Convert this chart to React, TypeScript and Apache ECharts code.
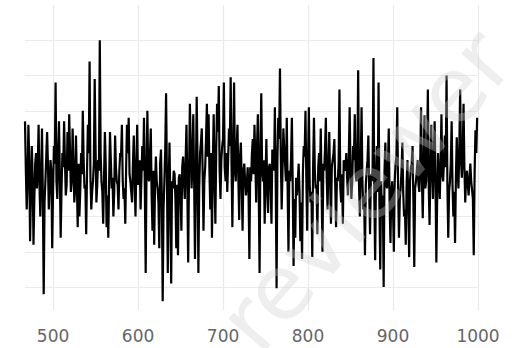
import React, { useEffect, useRef } from "react";
import * as echarts from "echarts";

const xStart = 467;
const xTicks = [500, 600, 700, 800, 900, 1000];
const yGridValues = [0, 10, 20, 30, 40, 50, 60, 70];

// values at x = 467, 469, 471, ...
const valuesEven = [
  47, 22, 46, 13, 40, 12, 35, 28, 46, 20,
  45, -2, 30, 44, 22, 36, 11, 40, 58, 25,
  47, 14, 38, 47, 26, 44, 49, 27, 45, 24,
  43, 17, 20, 38, 50, 28, 15, 46, 64, 22,
  30, 59, 24, 36, 70, 30, 18, 44, 17, 14,
  44, 28, 20, 43, 30, 22, 38, 46, 25, 18,
  46, 48, 30, 24, 43, 20, 46, 32, 22, 40,
  48, 4, 50, 30, 45, 16, 12, 37, 28, 11,
  39, -4, 30, 55, 4, 41, 1, 28, 32, 11,
  9, 32, 16, 37, 25, 46, 7, 52, 28, 49,
  8, 54, 4, 38, 45, 16, 34, 52, 49, 22,
  14, 49, 18, 52, 57, 25, 40, 58, 30, 27,
  45, 59.5, 17, 58, 30, 46, 19, 41, 16, 35,
  26, 34, 8, 30, 42, 46, 24, 49, 4, 55,
  30, 18, 42, 21, 35, 18, 36, 51, -0.3, 48,
  62, 22, 45, 35, 48, 10, 30, 48, 6, 14,
  26, 35, 13, 8, 40, 50, 16, 51, 24, 8.5,
  48, 28, 15, 38, 45, 10, 33, 48, 22, 44,
  18, 36, 42, 17, 30, 56, 24, 18, 34, 38,
  26, 51, 25, 40, 49, 30, 61.5, 20, 51, 22,
  9, 33, 43, 15, 30, 65, 7.6, 40, 58, 5,
  20, 0, 41, 28, 45, 12.5, 30, 10, 35, 51,
  14, 28, 41, 20, 12, 36, 8.5, 34, 40, 5.7,
  30, 36, 27, 51, 19.5, 48.7, 30, 56, 17.6, 46,
  25, 47, 7, 38, 25, 49, 30, 43, 60, 14,
  30, 47, 20, 12.5, 42.5, 28, 56, 31, 52, 24,
  33, 26, 35, 27.5, 9, 44.5, 48,
];

// values at x = 468, 470, 472, ...
const valuesOdd = [
  33, 30, 36, 27, 31, 25, 38, 34, 29, 32,
  26, 24, 37, 35, 29, 33, 27, 35, 30, 38,
  31, 28, 34, 36, 29, 33, 38, 30, 35, 28,
  30, 35, 27, 32, 36, 29, 33, 38, 31, 27,
  35, 40, 29, 33, 38, 27, 31, 35, 26, 30,
  36, 31, 27, 34, 29, 33, 37, 30, 28, 34,
  38, 32, 27, 35, 30, 34, 29, 36, 31, 33,
  28, 34, 31, 37, 26, 33, 29, 30, 24, 35,
  26, 22, 39, 31, 28, 24, 30, 33, 25, 29,
  31, 27, 34, 30, 36, 28, 32, 40, 35, 30,
  29, 36, 28, 41, 33, 30, 42, 37, 33, 38,
  35, 31, 39, 44, 33, 36, 42, 34, 38, 36,
  40, 35, 38, 33, 39, 31, 37, 29, 33, 30,
  29, 27, 34, 38, 32, 36, 40, 28, 39, 33,
  36, 31, 28, 34, 29, 39, 33, 30, 36, 42,
  37, 33, 39, 30, 28, 33, 36, 29, 25, 31,
  30, 27, 24, 33, 37, 31, 35, 29, 27, 34,
  33, 29, 34, 30, 27, 35, 39, 31, 35, 30,
  34, 38, 29, 31, 35, 28, 32, 36, 33, 31,
  37, 33, 30, 36, 32, 35, 29, 34, 30, 26,
  29, 36, 27, 32, 34, 25, 31, 27, 23, 30,
  26, 33, 29, 34, 24, 27, 22, 30, 37, 28,
  25, 33, 27, 22, 29, 23, 30, 35, 24, 28,
  33, 29, 35, 31, 34, 28, 36, 29, 33, 34,
  37, 30, 26, 31, 35, 32, 36, 34, 29, 27,
  35, 29, 27, 31, 33, 39, 36, 37, 34, 31,
  29, 31, 30, 25, 32, 38,
];

const watermark = "reviewer";

export default function App() {
  const ref = useRef<HTMLDivElement>(null);
  useEffect(() => {
    if (!ref.current) return;
    const chart = echarts.init(ref.current, undefined, { renderer: "svg" });
    const data: number[][] = [];
    valuesEven.forEach((v, i) => {
      data.push([xStart + 2 * i, v]);
      if (i < valuesOdd.length) data.push([xStart + 2 * i + 1, valuesOdd[i]]);
    });
    chart.setOption({
      animation: false,
      backgroundColor: "#ffffff",
      grid: { left: 25, right: 39, top: 5, bottom: 38 },
      xAxis: {
        type: "value",
        min: xStart,
        max: 1000,
        axisLine: { show: false },
        axisTick: { show: false, customValues: xTicks },
        axisLabel: {
          customValues: xTicks,
          formatter: (v: number) => String(v),
          color: "#666666",
          fontSize: 17,
          fontFamily: "DejaVu Sans",
          margin: 17,
        },
        splitLine: { show: true, lineStyle: { color: "#ebebeb", width: 1.2 } },
      },
      yAxis: {
        type: "value",
        min: -6.5,
        max: 80,
        axisLine: { show: false },
        axisTick: { show: false, customValues: yGridValues },
        axisLabel: { show: false, customValues: yGridValues },
        splitLine: { show: true, lineStyle: { color: "#ebebeb", width: 1.2 } },
      },
      series: [
        {
          type: "line",
          data,
          showSymbol: false,
          symbol: "none",
          lineStyle: { color: "#000000", width: 2.2 },
          z: 2,
        },
      ],
      graphic: [
        {
          type: "text",
          x: 365,
          y: 190,
          rotation: 0.85,
          z: 100,
          silent: true,
          style: {
            text: watermark,
            fontSize: 90,
            fontFamily: "DejaVu Sans",
            fill: "rgba(205,205,205,0.35)",
            align: "center",
            verticalAlign: "middle",
          },
        },
      ],
    });
    return () => chart.dispose();
  }, []);
  return <div ref={ref} style={{ width: 517, height: 348, position: "absolute", left: 0, top: 0 }} />;
}
